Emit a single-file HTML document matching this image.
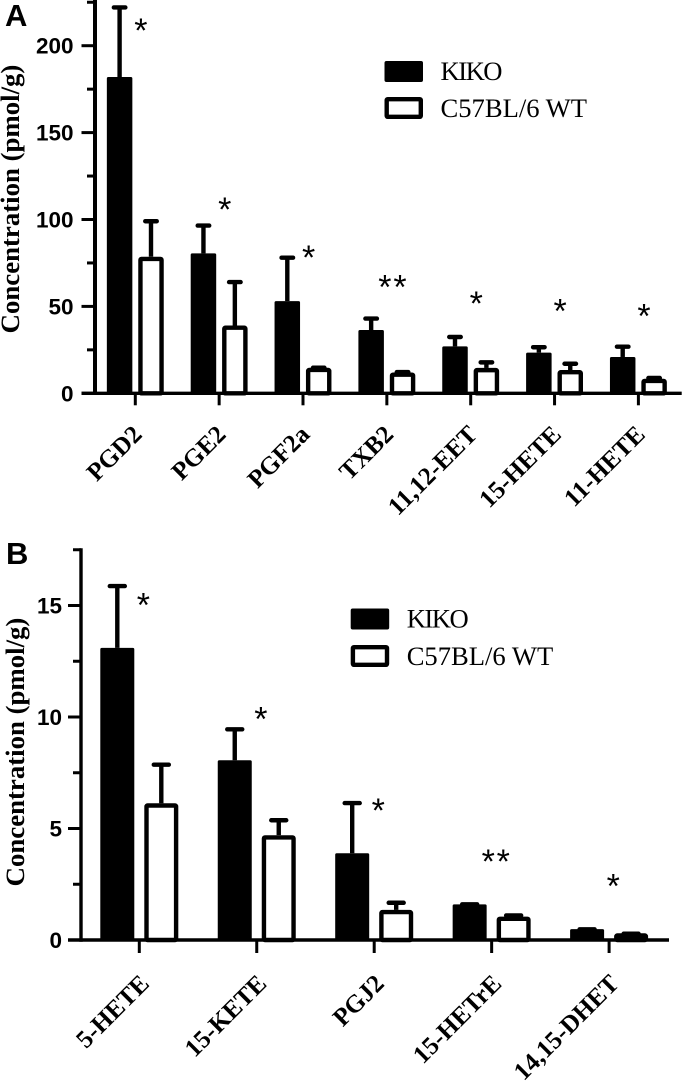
<!DOCTYPE html>
<html lang="en">
<head>
<meta charset="utf-8">
<title>Eicosanoid concentrations</title>
<style>
html,body{margin:0;padding:0;background:#fff;}
svg{display:block;}
text{fill:#000;}
.tick{font:bold 22.5px "Liberation Sans",sans-serif;text-anchor:end;}
.cat{font:bold 25.2px "Liberation Serif",serif;text-anchor:end;}
.title{font:bold 26.8px "Liberation Serif",serif;text-anchor:middle;}
.leg{font:26.6px "Liberation Serif",serif;}
.star{font:34px "Liberation Sans",sans-serif;text-anchor:middle;letter-spacing:1.8px;}
.letter{font:bold 31px "Liberation Sans",sans-serif;}
</style>
</head>
<body>
<svg id="chart" width="683" height="1086" viewBox="0 0 683 1086" xmlns="http://www.w3.org/2000/svg"></svg>
<script>
// Panel A data
const categoriesA = ['PGD2','PGE2','PGF2a','TXB2','11,12-EET','15-HETE','11-HETE'];
const kikoA = [182,80.5,53,36.4,27,23.4,20.9];
const kikoErrA = [222,96.5,78,43,32.4,26.5,26.8];
const wtA = [78.6,39,14.7,12,14.6,13.4,8.4];
const wtErrA = [99,64,14.7,12.2,17.8,17,8.8];
const starsA = ['*','*','*','**','*','*','*'];
const starLevelA = [211,108,80.5,63.5,54,49.6,46.7];
const majorTicksA = [0,50,100,150,200];
const minorTicksA = [25,75,125,175,225];

// Panel B data
const categoriesB = ['5-HETE','15-KETE','PGJ2','15-HETrE','14,15-DHET'];
const kikoB = [13.1,8.06,3.89,1.6,0.49];
const kikoErrB = [15.87,9.45,6.14,1.6,0.48];
const wtB = [6.13,4.7,1.35,1.05,0.3];
const wtErrB = [7.86,5.37,1.67,1.1,0.28];
const starsB = ['*','*','*','**','*'];
const starLevelB = [15.2,10.1,6.0,3.7,2.6];
const majorTicksB = [0,5,10,15];
const minorTicksB = [2.5,7.5,12.5,17.5];

const legendLabels = ['KIKO','C57BL/6 WT'];
const NS = 'http://www.w3.org/2000/svg';
const root = document.getElementById('chart');

function make(parent, tag, attrs, content){
  const el = document.createElementNS(NS, tag);
  for (const k in attrs) el.setAttribute(k, attrs[k]);
  if (content !== undefined) el.textContent = content;
  parent.appendChild(el);
  return el;
}

function drawPanel(p){
  const g = make(root,'g',{});
  
  
  const y = v => p.y0 - v * p.pxPerUnit;
  const x = i => p.x0 + i * p.step;
  const xEnd = p.xEnd;

  // bars
  p.categories.forEach((c,i)=>{
    const bx = x(i) - p.offset - p.barW/2;
    const wx = x(i) + p.offset - p.barW/2;
    const kCx = x(i) - p.offset, wCx = x(i) + p.offset;

    const kikoStem = make(g,'line',{x1:kCx,x2:kCx,y1:y(p.kiko[i]),y2:y(p.kikoErr[i]),stroke:'#000','stroke-width':4.4});
    
    
    const kikoCap = make(g,'line',{x1:kCx-p.capW/2+2,x2:kCx+p.capW/2-2,y1:y(p.kikoErr[i]),y2:y(p.kikoErr[i]),stroke:'#000','stroke-width':4.4,'stroke-linecap':'round'});
    
    
    const kikoBar = make(g,'rect',{x:bx,y:y(p.kiko[i]),width:p.barW,height:p.y0-y(p.kiko[i]),rx:1.5,fill:'#000'});
    
    

    const wtStem = make(g,'line',{x1:wCx,x2:wCx,y1:y(p.wt[i]),y2:y(p.wtErr[i]),stroke:'#000','stroke-width':4.4});
    
    
    const wtCap = make(g,'line',{x1:wCx-p.capW/2+2,x2:wCx+p.capW/2-2,y1:y(p.wtErr[i]),y2:y(p.wtErr[i]),stroke:'#000','stroke-width':4.4,'stroke-linecap':'round'});
    
    
    const wtBar = make(g,'rect',{x:wx+2.2,y:y(p.wt[i])+2.2,width:p.barW-4.4,height:p.y0-y(p.wt[i])-2.2,rx:1,fill:'#fff',stroke:'#000','stroke-width':4.4});
    
    

    const tick = make(g,'line',{x1:x(i),x2:x(i),y1:p.y0,y2:p.y0+p.tickLen,stroke:'#000','stroke-width':3});
    
    

    const lx = x(i) + p.labelDx, ly = p.y0 + p.labelDy;
    const lab = make(g,'text',{class:'cat',x:lx,y:ly,transform:`rotate(-45 ${lx} ${ly})`},c);
    
    

    const star = make(g,'text',{class:'star',x:x(i)+p.starDx,y:y(p.starLevel[i])+p.starDy},p.stars[i]);
    
    
  });

  // axes
  const yAxis = make(g,'line',{x1:p.axisX,x2:p.axisX,y1:y(p.yTop)-1.5,y2:p.y0+1.7,stroke:'#000','stroke-width':p.axisW});
  
  
  const xAxis = make(g,'line',{x1:p.axisX-p.majorLen,x2:xEnd,y1:p.y0,y2:p.y0,stroke:'#000','stroke-width':3.4});
  
  

  p.major.forEach(v=>{
    const t = make(g,'line',{x1:p.axisX-p.majorLen,x2:p.axisX,y1:y(v),y2:y(v),stroke:'#000','stroke-width':3});
    
    
    const l = make(g,'text',{class:'tick',x:p.axisX-p.majorLen-p.tickGap,y:y(v)+8},String(v));
    
    
  });
  p.minor.forEach(v=>{
    const t = make(g,'line',{x1:p.axisX-p.minorLen,x2:p.axisX,y1:y(v),y2:y(v),stroke:'#000','stroke-width':3});
    
    
  });

  // y title
  const ty = p.titleY, tx = p.titleX;
  const title = make(g,'text',{class:'title',x:tx,y:ty,transform:`rotate(-90 ${tx} ${ty})`},'Concentration (pmol/g)');
  
  

  // panel letter
  const letter = make(g,'text',{class:'letter',x:p.letterX,y:p.letterY},p.letter);
  
  

  // legend
  const s1 = make(g,'rect',{x:p.legX,y:p.legY1,width:38.5,height:21,rx:2,fill:'#000'});
  
  
  const s2 = make(g,'rect',{x:p.legX+2.2,y:p.legY2+2.2,width:34.1,height:17.6,rx:1,fill:'#fff',stroke:'#000','stroke-width':4.4});
  
  
  const t1 = make(g,'text',{class:'leg',x:p.legX+56,y:p.legY1+19,textLength:62,lengthAdjust:'spacing'},legendLabels[0]);
  
  
  const t2 = make(g,'text',{class:'leg',x:p.legX+56,y:p.legY2+20},legendLabels[1]);
  
  
}

drawPanel({name:'panel-a',letter:'A',letterX:5,letterY:26,
  categories:categoriesA,kiko:kikoA,kikoErr:kikoErrA,wt:wtA,wtErr:wtErrA,stars:starsA,starLevel:starLevelA,
  major:majorTicksA,minor:minorTicksA,yTop:226,
  y0:393.3,pxPerUnit:1.738,x0:135.3,step:83.85,offset:15.7,barW:25.5,capW:15.5,tickLen:12,
  axisX:95,axisW:4,xEnd:681.7,majorLen:13.5,minorLen:8,tickGap:8,
  labelDx:8,labelDy:42.5,starDx:6.5,starDy:15.6,
  titleX:19,titleY:199,legX:384.5,legY1:61,legY2:97});

drawPanel({name:'panel-b',letter:'B',letterX:6,letterY:564,
  categories:categoriesB,kiko:kikoB,kikoErr:kikoErrB,wt:wtB,wtErr:wtErrB,stars:starsB,starLevel:starLevelB,
  major:majorTicksB,minor:minorTicksB,yTop:17.5,
  y0:940,pxPerUnit:22.3,x0:139.3,step:117.45,offset:22,barW:34,capW:19,tickLen:13,
  axisX:81,axisW:3.4,xEnd:669,majorLen:13,minorLen:8,tickGap:6,
  labelDx:11.2,labelDy:45,starDx:5,starDy:15.6,
  titleX:24,titleY:752,legX:350.7,legY1:608.5,legY2:645});
</script>
</body>
</html>
